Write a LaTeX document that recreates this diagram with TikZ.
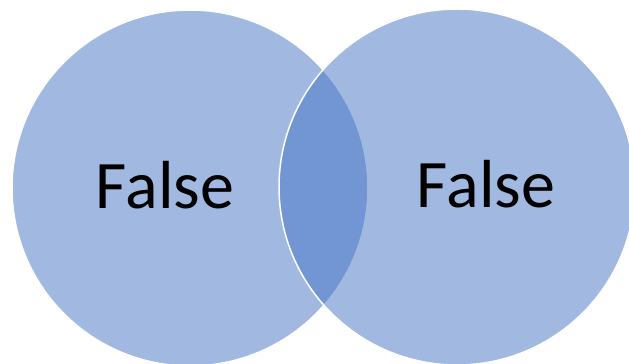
\documentclass[tikz,border=0pt]{standalone}
\usepackage{fontspec}
\setmainfont{Carlito}
\usepackage{tikz}
\usepackage{xcolor}

\begin{document}
\begin{tikzpicture}[x=1pt,y=1pt,
  vennset/.style={circle,minimum size=356,fill=accent,fill opacity=0.5,draw=white,draw opacity=1,line width=1.5},
  venntext/.style={anchor=base,inner sep=0,font=\fontsize{68}{80}\selectfont}]
\definecolor{accent}{HTML}{4472C4}
\useasboundingbox (0,0) rectangle (629,364);
  \foreach \nm/\xpos/\ypos/\tx/\ty in {A/190/176/165/155,B/457/177/486/156}
  {  \node [vennset] (set\nm) at (\xpos,\ypos) {};
     \node [venntext] (label\nm) at (\tx,\ty) {False};}
\end{tikzpicture}
\end{document}
